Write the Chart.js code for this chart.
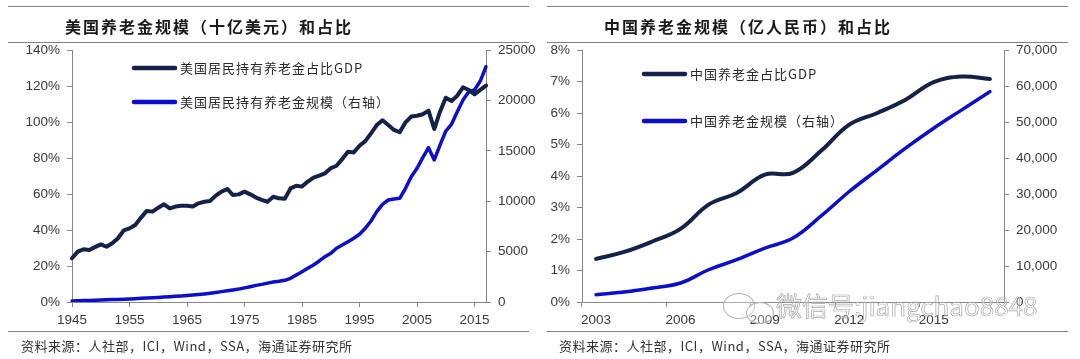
<!DOCTYPE html>
<html>
<head>
<meta charset="utf-8">
<script src="https://cdn.jsdelivr.net/npm/chart.js@4.4.0/dist/chart.umd.min.js"></script>
<style>
  html, body { margin: 0; padding: 0; background: #fff; }
  #page { position: relative; width: 1080px; height: 359px; overflow: hidden; }
  canvas { position: absolute; top: 0; }
  .rule { position: absolute; height: 1px; background: #808080; }
  .title { position: absolute; top: 15px; font: bold 16px "Noto Sans CJK SC", sans-serif; letter-spacing: 2px; color: #1a1a1a; line-height: 22px; }
  .source { position: absolute; top: 337px; font: 13px "Noto Sans CJK SC", sans-serif; color: #333; line-height: 18px; letter-spacing: 0.5px; }
  .watermark { position: absolute; left: 776px; top: 290px; font: 26px "Noto Sans CJK SC", sans-serif; line-height: 30px; white-space: nowrap; color: rgba(255,255,255,0.2); -webkit-text-stroke: 0.7px #a8a8a8; z-index: 5; }
  .bubble { position: absolute; border: 1px solid #b4b4b4; border-radius: 50%; background: rgba(255,255,255,0.3); z-index: 5; }
</style>
</head>
<body>
<div id="page">
  <canvas id="usChart" width="540" height="359" style="left:0;width:540px;height:359px"></canvas>
  <canvas id="cnChart" width="540" height="359" style="left:540px;width:540px;height:359px"></canvas>

  <div class="rule" style="left:8px;width:521px;top:6px"></div>
  <div class="rule" style="left:8px;width:521px;top:42px"></div>
  <div class="rule" style="left:8px;width:521px;top:331px"></div>
  <div class="title" style="left:65px">美国养老金规模（十亿美元）和占比</div>
  <div class="source" style="left:21px">资料来源：人社部，ICI，Wind，SSA，海通证券研究所</div>

  <div class="rule" style="left:547px;width:521px;top:6px"></div>
  <div class="rule" style="left:547px;width:521px;top:42px"></div>
  <div class="rule" style="left:547px;width:521px;top:331px"></div>
  <div class="title" style="left:604px">中国养老金规模（亿人民币）和占比</div>
  <div class="source" style="left:559px">资料来源：人社部，ICI，Wind，SSA，海通证券研究所</div>

  <div class="bubble" style="left:723px;top:293px;width:30px;height:24px"></div>
  <div class="bubble" style="left:746px;top:302px;width:26px;height:20px"></div>
  <div class="watermark">微信号:jiangchao8848</div>
</div>

<script>
/******************* data ***********************/
// US: 1945 - 2017, one point per year
const usYears = Array.from({length: 73}, (_, i) => String(1945 + i));
// pension assets as % of GDP (left axis)
const usPensionGdp = [
  24.3, 28.0, 29.3, 28.9, 30.5, 32.0, 30.7, 32.6, 35.4, 39.8,
  40.9, 42.8, 46.9, 50.6, 50.2, 52.4, 54.3, 52.0, 53.0, 53.5,
  53.5, 53.0, 54.8, 55.7, 56.1, 59.1, 61.3, 62.8, 59.4, 59.8,
  61.3, 59.8, 58.0, 56.7, 55.7, 58.5, 57.6, 57.4, 63.1, 64.6,
  64.1, 66.9, 69.1, 70.2, 71.5, 74.3, 75.7, 79.4, 83.5, 83.1,
  86.8, 89.4, 93.7, 98.3, 101.0, 98.3, 95.6, 94.3, 99.8, 103.0,
  103.5, 104.3, 106.3, 96.1, 105.7, 113.5, 111.7, 114.6, 119.3, 117.8,
  115.4, 117.8, 120.2
];
// pension assets, billion USD (right axis)
const usPensionAssets = [
  100, 120, 140, 160, 180, 200, 220, 240, 260, 280,
  300, 330, 360, 390, 420, 450, 490, 520, 560, 600,
  640, 690, 740, 800, 870, 950, 1030, 1120, 1200, 1280,
  1400, 1520, 1650, 1750, 1870, 1980, 2050, 2150, 2350, 2680,
  3000, 3340, 3670, 4070, 4500, 4830, 5330, 5650, 5980, 6320,
  6720, 7310, 8040, 8960, 9690, 10120, 10220, 10290, 11280, 12430,
  13260, 14320, 15310, 14090, 15570, 16960, 17630, 18880, 20040, 20860,
  21030, 21920, 23340
];
const usLabels = ['美国居民持有养老金占比GDP', '美国居民持有养老金规模（右轴）'];
const usPctTicks = [0, 140, 20];
const usAssetTicks = [0, 25000, 5000];

// China: 2003 - 2017
const cnYears = ['2003', '2004', '2005', '2006', '2007', '2008', '2009', '2010',
                 '2011', '2012', '2013', '2014', '2015', '2016', '2017'];
const cnPensionGdp = [1.37, 1.59, 1.92, 2.32, 3.09, 3.46, 4.04, 4.10, 4.80, 5.63, 6.00, 6.42, 6.98, 7.16, 7.08];
const cnPensionAssets = [2030, 2770, 3880, 5270, 8960, 11740, 14980, 17760, 23900, 30690, 36710, 42730, 48280, 53360, 58440];
const cnLabels = ['中国养老金占比GDP', '中国养老金规模（右轴）'];
const cnPctTicks = [0, 8, 1];
const cnAssetTicks = [0, 70000, 10000];

/******************* styles ***********************/
const DARK = '#14224a';
const BLUE = '#0b0fcc';
const AXIS = '#878787';
const TICK_FONT = {family: '"Liberation Sans", Arial, sans-serif', size: 13.5};
const TICK_COLOR = '#3a3a3a';

// legend drawn inside the plot area
const insideLegend = {
  id: 'insideLegend',
  afterDraw(chart, args, opts) {
    const ctx = chart.ctx;
    ctx.save();
    chart.data.datasets.forEach((ds, i) => {
      const y = opts.ys[i];
      ctx.strokeStyle = ds.borderColor;
      ctx.lineWidth = 4.5;
      ctx.lineCap = 'round';
      ctx.beginPath();
      ctx.moveTo(opts.x1, y);
      ctx.lineTo(opts.x2, y);
      ctx.stroke();
      ctx.fillStyle = '#2a2a2a';
      ctx.font = '13px "Noto Sans CJK SC", sans-serif';
      ctx.letterSpacing = '1px';
      ctx.textBaseline = 'middle';
      ctx.fillText(ds.label, opts.textX, y);
    });
    ctx.restore();
  }
};

function fixSize(prop, value) {
  return function (scale) { scale[prop] = value; };
}

function makeConfig(o) {
  return {
    type: 'line',
    data: {
      labels: o.labels,
      datasets: [
        {
          label: o.names[0],
          data: o.pct,
          yAxisID: 'y',
          borderColor: DARK,
          borderWidth: 4,
          pointRadius: 0,
          tension: o.tension,
          borderJoinStyle: 'round',
          borderCapStyle: 'round'
        },
        {
          label: o.names[1],
          data: o.assets,
          yAxisID: 'y1',
          borderColor: BLUE,
          borderWidth: 3.5,
          pointRadius: 0,
          tension: o.tension,
          borderJoinStyle: 'round',
          borderCapStyle: 'round'
        }
      ]
    },
    options: {
      responsive: false,
      animation: false,
      layout: {padding: {top: 50, left: 0, right: 0, bottom: 0}},
      plugins: {
        legend: {display: false},
        tooltip: {enabled: false},
        insideLegend: o.legend
      },
      scales: {
        x: {
          type: 'category',
          offset: o.offset,
          afterFit: fixSize('height', 57),
          border: {display: true, color: AXIS, width: 1},
          grid: {
            offset: o.offset,
            drawOnChartArea: false,
            drawTicks: true,
            tickLength: 5,
            color: (c) => (c.index % o.every === 0 ? AXIS : 'rgba(0,0,0,0)')
          },
          ticks: {
            autoSkip: false,
            maxRotation: 0,
            padding: 5,
            font: TICK_FONT,
            color: TICK_COLOR,
            callback: (v, i) => (i % o.every === 0 ? o.labels[i] : '')
          }
        },
        y: {
          position: 'left',
          min: o.pctTicks[0],
          max: o.pctTicks[1],
          afterFit: fixSize('width', o.leftW),
          border: {display: true, color: AXIS, width: 1},
          grid: {drawOnChartArea: false, tickLength: 5, color: AXIS},
          ticks: {
            stepSize: o.pctTicks[2],
            padding: 7,
            font: TICK_FONT,
            color: TICK_COLOR,
            callback: (v) => v + '%'
          }
        },
        y1: {
          position: 'right',
          min: o.assetTicks[0],
          max: o.assetTicks[1],
          afterFit: fixSize('width', o.rightW),
          border: {display: true, color: AXIS, width: 1},
          grid: {drawOnChartArea: false, tickLength: 5, color: AXIS},
          ticks: {
            stepSize: o.assetTicks[2],
            padding: 7,
            font: TICK_FONT,
            color: TICK_COLOR,
            callback: o.assetFmt
          }
        }
      }
    },
    plugins: [insideLegend]
  };
}

/******************* US chart ***********************/
const usChart = new Chart(document.getElementById('usChart'), makeConfig({
  labels: usYears,
  pct: usPensionGdp,
  assets: usPensionAssets,
  names: usLabels,
  pctTicks: usPctTicks,
  assetTicks: usAssetTicks,
  tension: 0,
  offset: false,
  every: 10,
  leftW: 72,
  rightW: 54,
  assetFmt: (v) => String(v),
  legend: {x1: 134, x2: 175, textX: 180, ys: [68, 102]}
}));

/******************* China chart ***********************/
const cnChart = new Chart(document.getElementById('cnChart'), makeConfig({
  labels: cnYears,
  pct: cnPensionGdp,
  assets: cnPensionAssets,
  names: cnLabels,
  pctTicks: cnPctTicks,
  assetTicks: cnAssetTicks,
  tension: 0.4,
  offset: true,
  every: 3,
  leftW: 42,
  rightW: 76,
  assetFmt: (v) => v.toLocaleString('en-US'),
  legend: {x1: 104, x2: 145, textX: 150, ys: [74, 121]}
}));
</script>
</body>
</html>
